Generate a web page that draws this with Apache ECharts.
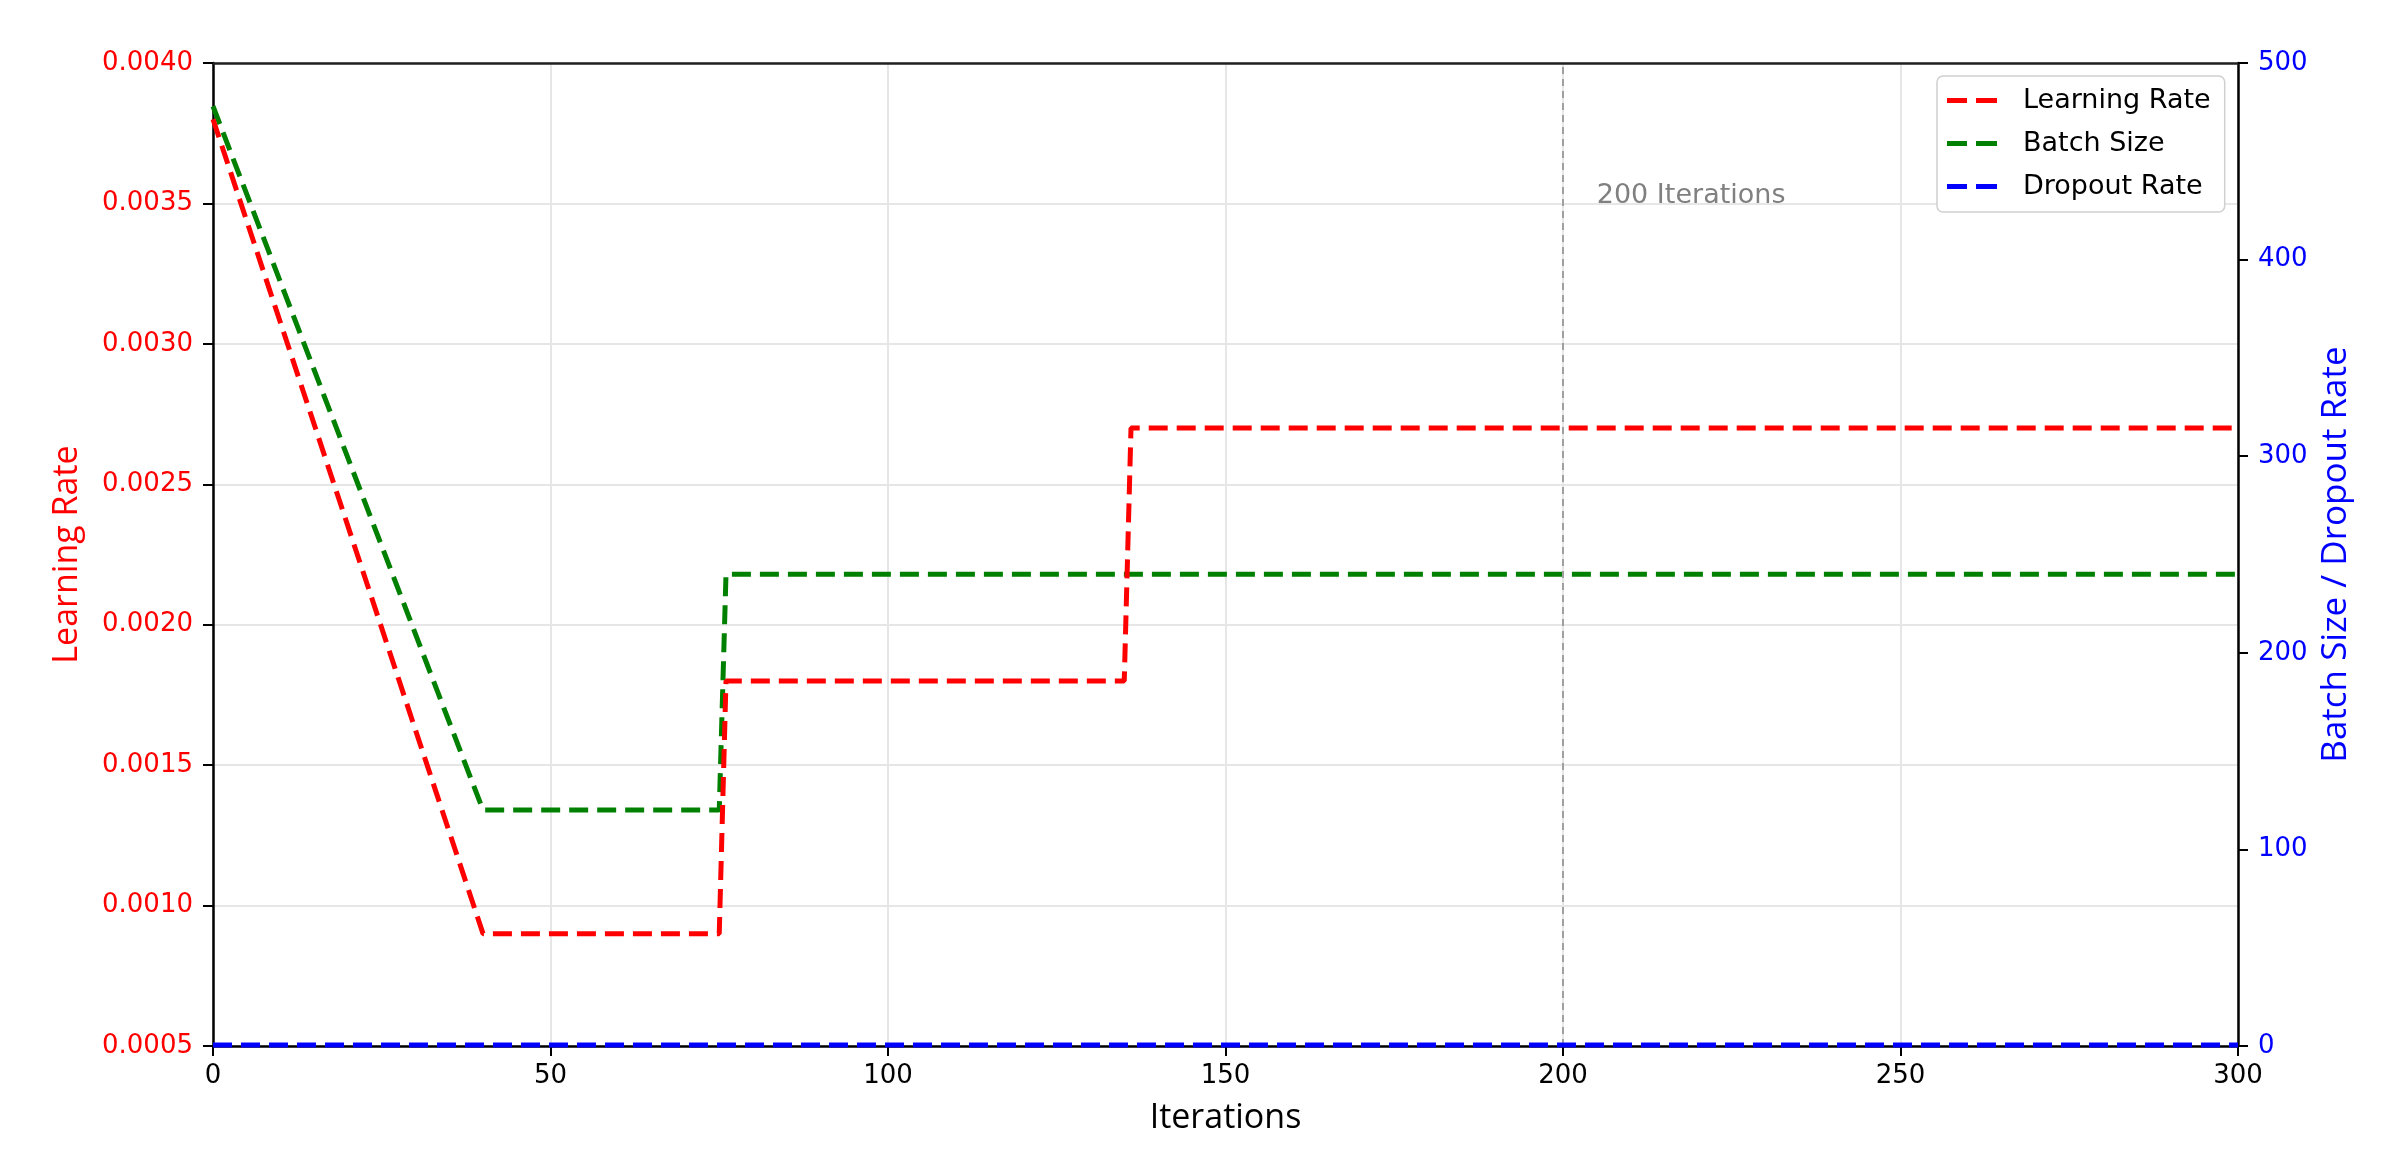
<!DOCTYPE html>
<html>
<head>
<meta charset="utf-8">
<script src="https://cdn.jsdelivr.net/npm/echarts@6/dist/echarts.min.js"></script>
<style>
html,body{margin:0;padding:0;background:#fff;}
#chart{width:2401px;height:1173px;}
</style>
</head>
<body>
<div id="chart"></div>
<script>
// ---- data ----
const lrIter = [0, 40, 75, 76, 135, 136, 300];
const lrValue = [0.0038, 0.0009, 0.0009, 0.0018, 0.0018, 0.0027, 0.0027];
const bsIter = [0, 40, 75, 76, 300];
const bsValue = [478, 120, 120, 240, 240];
const dropIter = [0, 300];
const dropValue = [0.5, 0.5];
const seriesNames = ['Learning Rate', 'Batch Size', 'Dropout Rate'];
const markerIter = 200;
const markerText = '200 Iterations';
const markerTextPos = [205, 0.0035];

const zip = (xs, ys) => xs.map((x, i) => [x, ys[i]]);

const chart = echarts.init(document.getElementById('chart'), null, {renderer: 'canvas'});
const tickFont = 'DejaVu Sans';
const nameFont = 'Open Sans';
const dash = [19, 9];
const dashIcon = 'path://M0,0h20v5h-20zM29,0h21v5h-21z';

chart.setOption({
  animation: false,
  backgroundColor: '#ffffff',
  grid: {left: 213, right: 163, top: 63, bottom: 127, show: false},
  legend: {
    orient: 'vertical', left: 1937, top: 76,
    padding: [11, 14, 12, 10],
    itemWidth: 50, itemHeight: 5, itemGap: 16,
    icon: dashIcon,
    backgroundColor: '#fff', borderColor: '#d0d0d0', borderWidth: 1.5, borderRadius: 6,
    textStyle: {fontFamily: tickFont, fontSize: 27, lineHeight: 25, color: '#000', padding: [0, 0, 0, 21]},
    data: seriesNames
  },
  xAxis: [
    {
      type: 'value', min: 0, max: 300, interval: 50, position: 'bottom',
      name: 'Iterations', nameLocation: 'middle', nameGap: 55,
      nameTextStyle: {fontFamily: nameFont, fontSize: 34, color: '#000'},
      axisLine: {onZero: false, lineStyle: {color: '#000', width: 2.5}},
      axisTick: {show: true, length: 10, lineStyle: {color: '#000', width: 2}},
      axisLabel: {margin: 17, fontFamily: tickFont, fontSize: 26, color: '#000'},
      splitLine: {show: true, lineStyle: {color: '#e6e6e6', width: 2}}
    },
    {
      type: 'value', min: 0, max: 300, interval: 50, position: 'top',
      axisLine: {show: true, onZero: false, lineStyle: {color: '#222', width: 2.5}},
      axisTick: {show: false}, axisLabel: {show: false}, splitLine: {show: false}
    }
  ],
  yAxis: [
    {
      type: 'value', position: 'left', min: 0.0005, max: 0.0040, interval: 0.0005,
      name: 'Learning Rate', nameLocation: 'middle', nameGap: 129, nameRotate: 90,
      nameTextStyle: {fontFamily: nameFont, fontSize: 34, color: '#ff0000'},
      axisLine: {show: true, onZero: false, lineStyle: {color: '#000', width: 2.5}},
      axisTick: {show: true, length: 10, lineStyle: {color: '#000', width: 2}},
      axisLabel: {margin: 20, fontFamily: tickFont, fontSize: 26, color: '#ff0000',
        formatter: v => v.toFixed(4)},
      splitLine: {show: true, lineStyle: {color: '#e6e6e6', width: 2}}
    },
    {
      type: 'value', position: 'right', min: 0, max: 500, interval: 100,
      name: 'Batch Size / Dropout Rate', nameLocation: 'middle', nameGap: 81, nameRotate: 90,
      nameTextStyle: {fontFamily: nameFont, fontSize: 35, color: '#0000ff'},
      axisLine: {show: true, onZero: false, lineStyle: {color: '#000', width: 2.5}},
      axisTick: {show: true, length: 10, lineStyle: {color: '#000', width: 2}},
      axisLabel: {margin: 20, fontFamily: tickFont, fontSize: 26, color: '#0000ff'},
      splitLine: {show: false}
    }
  ],
  series: [
    {
      name: seriesNames[0], type: 'line', yAxisIndex: 0, symbol: 'none',
      data: zip(lrIter, lrValue),
      lineStyle: {color: '#ff0000', width: 5, type: dash},
      itemStyle: {color: '#ff0000'},
      z: 4,
      markLine: {
        silent: true, symbol: 'none',
        lineStyle: {color: '#a0a0a0', width: 2, type: [7, 5]},
        label: {show: false},
        data: [{xAxis: markerIter}]
      },
      markPoint: {
        silent: true, symbol: 'rect', symbolSize: 0,
        label: {show: true, position: 'inside', align: 'left', verticalAlign: 'bottom', offset: [0, 6],
          formatter: markerText, fontFamily: tickFont, fontSize: 27, color: '#808080'},
        data: [{coord: markerTextPos}]
      }
    },
    {
      name: seriesNames[1], type: 'line', yAxisIndex: 1, symbol: 'none',
      data: zip(bsIter, bsValue),
      lineStyle: {color: '#008000', width: 5, type: dash},
      itemStyle: {color: '#008000'},
      z: 3
    },
    {
      name: seriesNames[2], type: 'line', yAxisIndex: 1, symbol: 'none',
      data: zip(dropIter, dropValue),
      lineStyle: {color: '#0000ff', width: 5, type: dash},
      itemStyle: {color: '#0000ff'},
      z: 5
    }
  ]
});
</script>
</body>
</html>
